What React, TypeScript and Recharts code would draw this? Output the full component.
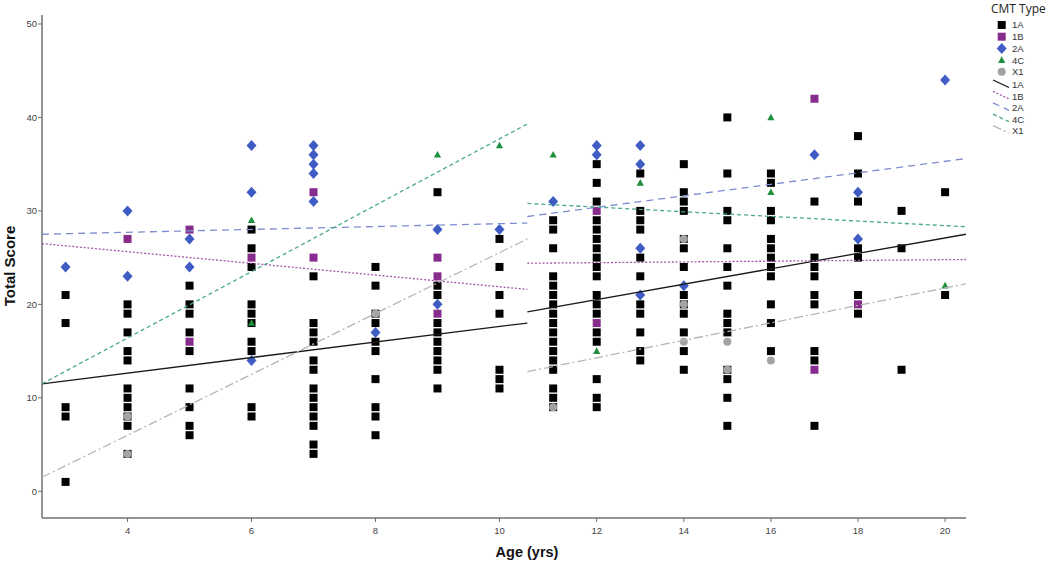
import { Label, Legend, Scatter, ScatterChart, XAxis, YAxis } from "recharts";

const AGES = [3, 4, 5, 6, 7, 8, 9, 10, 11, 12, 13, 14, 15, 16, 17, 18, 19, 20];
const X_TICKS = [4, 6, 8, 10, 12, 14, 16, 18, 20];
const Y_TICKS = [0, 10, 20, 30, 40, 50];
const TYPES = ["1A", "1B", "2A", "4C", "X1"];

// scores per age (same order as AGES)
const SCORES_1A = [
  [21, 18, 9, 8, 1],
  [20, 19, 17, 15, 14, 11, 10, 9, 8, 7, 4],
  [22, 20, 19, 17, 15, 11, 9, 7, 6],
  [28, 26, 24, 20, 19, 18, 16, 15, 9, 8],
  [23, 18, 17, 16, 14, 13, 11, 10, 9, 8, 7, 5, 4],
  [24, 22, 19, 18, 16, 15, 12, 9, 8, 6],
  [32, 22, 21, 18, 17, 16, 15, 14, 13, 11],
  [27, 24, 21, 19, 13, 12, 11],
  [29, 28, 26, 23, 22, 21, 20, 19, 18, 17, 16, 15, 14, 13, 11, 10, 9],
  [35, 33, 31, 29, 28, 27, 26, 25, 24, 23, 21, 20, 19, 17, 16, 12, 10, 9],
  [34, 30, 29, 28, 25, 23, 20, 19, 17, 15, 14],
  [35, 32, 31, 30, 27, 26, 24, 21, 20, 19, 17, 15, 13],
  [40, 34, 30, 29, 26, 24, 22, 19, 18, 17, 13, 12, 10, 7],
  [34, 33, 30, 29, 27, 26, 25, 24, 23, 20, 18, 15],
  [31, 25, 24, 23, 21, 20, 15, 14, 7],
  [38, 34, 31, 26, 25, 21, 19],
  [30, 26, 13],
  [32, 21],
];
const SCORES_1B = [[], [27], [28, 16], [25], [32, 25], [], [25, 23, 19], [], [], [30, 18], [], [], [], [], [42, 13], [20], [], []];
const SCORES_2A = [
  [24], [30, 23], [27, 24], [37, 32, 14], [37, 36, 35, 34, 31], [17], [28, 20], [28], [31],
  [37, 36], [37, 35, 26, 21], [22], [], [], [36], [32, 27], [], [44],
];
const SCORES_4C = [[], [], [], [29, 18], [], [], [36], [37], [36], [15], [33], [], [], [40, 32], [], [], [], [22]];
const SCORES_X1 = [[], [8, 4], [], [], [], [19], [], [], [9], [], [], [27, 20, 16], [16, 13], [14], [], [], [], []];
const SCORES_BY_TYPE = [SCORES_1A, SCORES_1B, SCORES_2A, SCORES_4C, SCORES_X1];

// fit lines, read at the ends of each age group (order as TYPES)
const FIT_AGES_EARLY = [2.62, 10.45];
const FIT_AGES_LATE = [10.45, 20.48];
const FIT_EARLY_START = [11.5, 26.5, 27.5, 11.5, 1.5];
const FIT_EARLY_END = [18.0, 21.6, 28.7, 39.3, 27.0];
const FIT_LATE_START = [19.2, 24.4, 29.4, 30.8, 12.8];
const FIT_LATE_END = [27.5, 24.8, 35.6, 28.3, 22.2];

const MARKER_COLORS = ["#000000", "#872b8c", "#3e5cc3", "#1e8f3e", "#a3a3a3"];
const LINE_COLORS = ["#1a1a1a", "#a455ab", "#7c8dd0", "#4aa88b", "#b5b5b5"];
const LINE_DASH = [undefined, "2 1.8", "7 5", "4 3", "9 3 2 3"];
const AXIS_COLOR = "#707070";
const SANS = "'Liberation Sans', Arial, sans-serif";

// the age axis gives 3-10 yrs more room than 11-20 yrs
const AGE_MIN = 2.62;
const AGE_BREAK = 10.55;
const AGE_MAX = 20.48;
const EARLY_SHARE = 0.532;

function makeAgeScale(): any {
  let dom: number[] = [AGE_MIN, AGE_MAX];
  let rng: number[] = [0, 1];
  const scale: any = (v: number) => {
    const d0 = dom[0];
    const d1 = dom[dom.length - 1];
    const t =
      v <= AGE_BREAK
        ? ((v - d0) / (AGE_BREAK - d0)) * EARLY_SHARE
        : EARLY_SHARE + ((v - AGE_BREAK) / (d1 - AGE_BREAK)) * (1 - EARLY_SHARE);
    return rng[0] + t * (rng[rng.length - 1] - rng[0]);
  };
  scale.domain = (d?: number[]) => {
    if (d === undefined) return dom;
    dom = [...d];
    return scale;
  };
  scale.range = (r?: number[]) => {
    if (r === undefined) return rng;
    rng = [...r];
    return scale;
  };
  scale.copy = () => makeAgeScale().domain(dom).range(rng);
  scale.ticks = () => X_TICKS;
  scale.tickFormat = () => (v: number) => String(v);
  return scale;
}

const ageScale = makeAgeScale();

const points = SCORES_BY_TYPE.map((byAge) =>
  byAge.flatMap((scores, i) => scores.map((score) => ({ age: AGES[i], score }))),
);

function drawMarker(type: number, cx: number, cy: number, key?: string) {
  const fill = MARKER_COLORS[type];
  if (type === 2)
    return <polygon key={key} points={`${cx},${cy - 5.5} ${cx + 5},${cy} ${cx},${cy + 5.5} ${cx - 5},${cy}`} fill={fill} />;
  if (type === 3)
    return <polygon key={key} points={`${cx},${cy - 3.8} ${cx + 3.6},${cy + 2.8} ${cx - 3.6},${cy + 2.8}`} fill={fill} />;
  if (type === 4) return <circle key={key} cx={cx} cy={cy} r={4} fill={fill} />;
  return <rect key={key} x={cx - 4} y={cy - 4} width={8} height={8} fill={fill} />;
}

const markerShape = (type: number) => (p: any) => {
  if (p.cx == null || p.cy == null) return <g />;
  return drawMarker(type, p.cx, p.cy);
};

function LegendBox() {
  const rowY = (k: number) => (k < 5 ? 25 + k * 11.7 : 85 + (k - 5) * 11.4);
  return (
    <svg width={65} height={140} style={{ display: "block", overflow: "visible" }}>
      <text x={6} y={13.3} fontSize={12} fontFamily="'Open Sans', sans-serif" fill="#222">
        CMT Type
      </text>
      {TYPES.map((t, i) => (
        <g key={`m${t}`}>
          {drawMarker(i, 16.7, rowY(i))}
          <text x={27} y={rowY(i) + 3.4} fontSize={9.5} fontFamily={SANS} fill="#333">
            {t}
          </text>
        </g>
      ))}
      {TYPES.map((t, i) => {
        const y = rowY(i + 5);
        return (
          <g key={`l${t}`}>
            <line x1={8} y1={y - 5} x2={24} y2={y + 2.5} stroke={LINE_COLORS[i]} strokeWidth={1.3} strokeDasharray={LINE_DASH[i]} />
            <text x={27} y={y + 3.4} fontSize={9.5} fontFamily={SANS} fill="#333">
              {t}
            </text>
          </g>
        );
      })}
    </svg>
  );
}

export default function App() {
  return (
    <div style={{ position: "absolute", left: 0, top: 0, width: 1050, height: 563, background: "#fff" }}>
      <ScatterChart
        width={1050}
        height={563}
        margin={{ top: 15, right: 84, bottom: 15, left: 0 }}
        style={{ fontFamily: SANS }}
      >
        <XAxis
          type="number"
          dataKey="age"
          scale={ageScale}
          domain={[AGE_MIN, AGE_MAX]}
          allowDataOverflow
          ticks={X_TICKS}
          interval={0}
          height={30}
          tickSize={4}
          tickMargin={5}
          axisLine={{ stroke: AXIS_COLOR, strokeWidth: 1.5 }}
          tickLine={{ stroke: AXIS_COLOR }}
          tick={{ fontSize: 9.5, fill: "#444" }}
        >
          <Label
            content={() => (
              <text x={527} y={557} textAnchor="middle" fontSize={14.5} fontWeight={700} fontFamily={SANS} fill="#111">
                Age (yrs)
              </text>
            )}
          />
        </XAxis>
        <YAxis
          type="number"
          dataKey="score"
          domain={[-2.86, 50.96]}
          allowDataOverflow
          ticks={Y_TICKS}
          interval={0}
          width={42}
          tickSize={4}
          tickMargin={1}
          axisLine={{ stroke: AXIS_COLOR, strokeWidth: 1.5 }}
          tickLine={{ stroke: AXIS_COLOR }}
          tick={{ fontSize: 9.5, fill: "#444" }}
        >
          <Label
            content={() => (
              <text
                x={15}
                y={266}
                transform="rotate(-90 15 266)"
                textAnchor="middle"
                fontSize={15}
                fontWeight={700}
                fontFamily={SANS}
                fill="#111"
              >
                Total Score
              </text>
            )}
          />
        </YAxis>
        <Legend
          layout="vertical"
          align="center"
          verticalAlign="middle"
          wrapperStyle={{ left: 985, top: 0, width: 65, height: 140 }}
          content={() => <LegendBox />}
        />
        {TYPES.map((t, i) => (
          <Scatter key={t} name={t} data={points[i]} shape={markerShape(i)} isAnimationActive={false} legendType="none" />
        ))}
        {TYPES.map((t, i) =>
          [
            [FIT_AGES_EARLY, FIT_EARLY_START[i], FIT_EARLY_END[i]],
            [FIT_AGES_LATE, FIT_LATE_START[i], FIT_LATE_END[i]],
          ].map(([ages, y0, y1]: any, k) => (
            <Scatter
              key={`fit${t}${k}`}
              name={`${t} fit`}
              data={[
                { age: ages[0], score: y0 },
                { age: ages[1], score: y1 },
              ]}
              fill="none"
              line={{ stroke: LINE_COLORS[i], strokeWidth: 1.3, strokeDasharray: LINE_DASH[i] }}
              shape={() => <g />}
              isAnimationActive={false}
              legendType="none"
            />
          )),
        )}
      </ScatterChart>
    </div>
  );
}
